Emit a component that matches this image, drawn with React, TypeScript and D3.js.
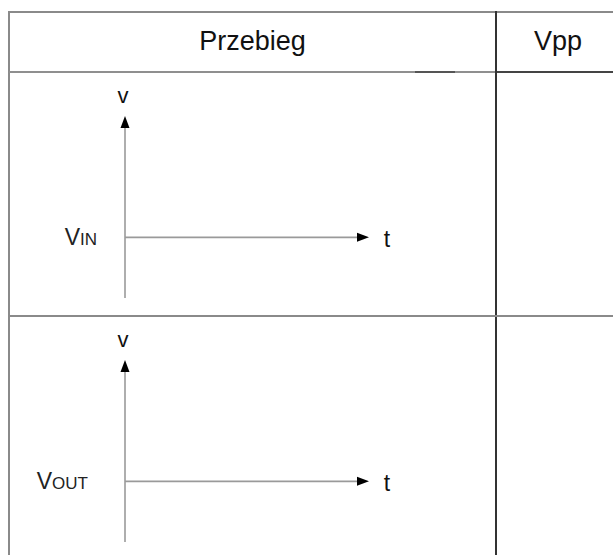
import React from 'react';
import * as d3 from 'd3';

// table content
const columns = ['Przebieg', 'Vpp'];
const rowNames = ['in', 'out'];
const signalMain = ['V', 'V'];
const signalSub = ['IN', 'OUT'];
const axisYLabel = 'v';
const axisXLabel = 't';
const vDomain = [-1, 2];
const tDomain = [0, 1];

const W = 613;
const H = 555;
const tableLeft = 9;
const tableTop = 12;
const headerH = 60;
const rowH = 244;
const divX = 496;
const font = '"Liberation Sans", Arial, Helvetica, sans-serif';

const App = () => {
  const rowY = d3.scaleBand().domain(rowNames).range([tableTop + headerH, tableTop + headerH + rowH * rowNames.length]);
  const colX = d3.scaleOrdinal<string, [number, number]>().domain(columns).range([[tableLeft, divX], [divX, W + 2]]);
  const t = d3.scaleLinear().domain(tDomain).range([125, 369]);

  return (
    <svg width={W} height={H} style={{ position: 'absolute', left: 0, top: 0, display: 'block', background: '#fff' }}>
      {/* outer lines */}
      <line x1={tableLeft} x2={W} y1={tableTop} y2={tableTop} stroke="#8a8a8a" strokeWidth={2} />
      <line x1={tableLeft} x2={tableLeft} y1={tableTop - 1} y2={H} stroke="#8a8a8a" strokeWidth={2} />
      <line x1={tableLeft} x2={divX} y1={tableTop + headerH} y2={tableTop + headerH} stroke="#8f8f8f" strokeWidth={2} />
      <line x1={415} x2={455} y1={tableTop + headerH} y2={tableTop + headerH} stroke="#555" strokeWidth={2} />
      <line x1={divX} x2={W} y1={tableTop + headerH} y2={tableTop + headerH} stroke="#444" strokeWidth={2} />
      <line x1={divX} x2={divX} y1={tableTop - 1} y2={H} stroke="#333" strokeWidth={2} />
      {rowNames.slice(1).map((r) => (
        <line key={r} x1={tableLeft} x2={W} y1={rowY(r)} y2={rowY(r)} stroke="#8a8a8a" strokeWidth={2} />
      ))}

      {/* header */}
      {columns.map((c) => {
        const [a, b] = colX(c);
        const cx = c === 'Vpp' ? 558 : (a + b) / 2;
        return (
          <text key={c} x={cx} y={tableTop + 38} textAnchor="middle" fontFamily={font} fontSize={27} fill="#111">
            {c}
          </text>
        );
      })}

      {/* axes in each row */}
      {rowNames.map((r, i) => {
        const top = rowY(r)!;
        const v = d3.scaleLinear().domain(vDomain).range([top + 226, top + 44]);
        const x0 = t(0);
        const y0 = v(0);
        const yTop = v(vDomain[1]);
        const xEnd = t(tDomain[1]);
        return (
          <g key={r}>
            <line x1={x0} x2={x0} y1={yTop + 10} y2={v(vDomain[0])} stroke="#9a9a9a" strokeWidth={1.6} />
            <line x1={x0} x2={xEnd - 10} y1={y0} y2={y0} stroke="#9a9a9a" strokeWidth={1.6} />
            <path d={`M${x0},${yTop} L${x0 - 4.5},${yTop + 12} L${x0 + 4.5},${yTop + 12} Z`} fill="#000" />
            <path d={`M${xEnd},${y0} L${xEnd - 12},${y0 - 4.5} L${xEnd - 12},${y0 + 4.5} Z`} fill="#000" />
            <text x={x0 - 2} y={yTop - 13} textAnchor="middle" fontFamily={font} fontSize={22} fill="#111">
              {axisYLabel}
            </text>
            <text x={xEnd + 18} y={y0 + 10} textAnchor="middle" fontFamily={font} fontSize={23} fill="#111">
              {axisXLabel}
            </text>
            <text x={i === 0 ? 97 : 88} y={y0 + 8} textAnchor="end" fontFamily={font} fill="#222">
              <tspan fontSize={23}>{signalMain[i]}</tspan>
              <tspan fontSize={17}>{signalSub[i]}</tspan>
            </text>
          </g>
        );
      })}
    </svg>
  );
};

export default App;
